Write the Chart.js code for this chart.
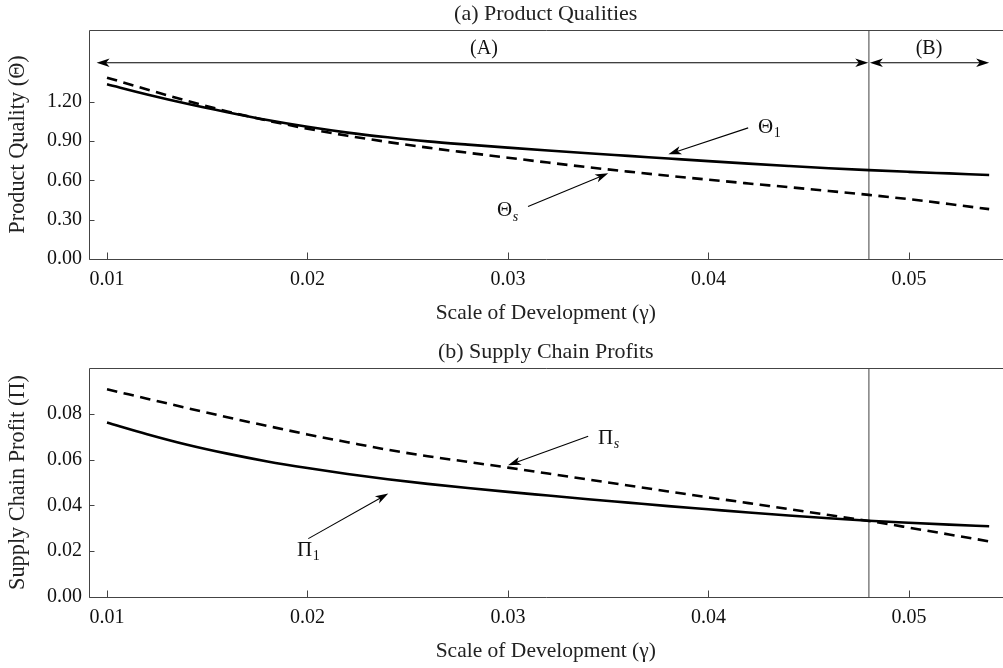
<!DOCTYPE html>
<html>
<head>
<meta charset="utf-8">
<script src="https://cdn.jsdelivr.net/npm/chart.js@4.4.1/dist/chart.umd.min.js"></script>
<style>
  html, body { margin:0; padding:0; background:#fff; overflow:hidden; width:1003px; height:668px; }
  .panel { position:absolute; left:0; width:1003px; height:334px; }
  #p1 { top:0; }
  #p2 { top:338px; }
</style>
</head>
<body>
<div class="panel" id="p1"><canvas id="c1" width="1003" height="334"></canvas></div>
<div class="panel" id="p2"><canvas id="c2" width="1003" height="334"></canvas></div>
<script>
// ---------------- data ----------------
const gamma   = [0.010,0.012,0.014,0.016,0.018,0.020,0.022,0.024,0.026,0.028,0.030,0.032,0.034,0.036,0.038,0.040,0.042,0.044,0.046,0.048,0.050,0.052,0.054];
const theta1  = [1.335,1.257,1.186,1.122,1.062,1.010,0.966,0.930,0.899,0.874,0.851,0.829,0.808,0.788,0.768,0.748,0.729,0.711,0.694,0.679,0.666,0.654,0.642];
const thetaS  = [1.386,1.296,1.208,1.128,1.058,0.996,0.942,0.894,0.851,0.812,0.774,0.737,0.701,0.668,0.636,0.606,0.577,0.549,0.520,0.490,0.457,0.420,0.381];
const pi1     = [0.0762,0.0711,0.0665,0.0626,0.0592,0.0563,0.0537,0.0514,0.0494,0.0476,0.0459,0.0443,0.0427,0.0412,0.0397,0.0383,0.0369,0.0356,0.0344,0.0333,0.0324,0.0316,0.0309];
const piS     = [0.0907,0.0866,0.0825,0.0785,0.0747,0.0710,0.0676,0.0643,0.0615,0.0590,0.0565,0.0539,0.0513,0.0487,0.0461,0.0435,0.0410,0.0384,0.0358,0.0332,0.0303,0.0273,0.0243];
const xTicks       = [0.01,0.02,0.03,0.04,0.05];
const thetaTicks   = [0.00,0.30,0.60,0.90,1.20];
const profitTicks  = [0.00,0.02,0.04,0.06,0.08];
const gammaThreshold = 0.048;
const xRange = [0.009077, 0.05469];
const thetaRange = [0, 1.75];
const profitRange = [0, 0.10];

const FONT = '"Liberation Serif", "Times New Roman", serif';

// ---------------- annotation plugin ----------------
function arrowHead(ctx, x1, y1, x2, y2) {
  const ang = Math.atan2(y2 - y1, x2 - x1);
  const L = 13, W = 4.2, N = 9.5;
  ctx.save();
  ctx.translate(x2, y2); ctx.rotate(ang);
  ctx.beginPath();
  ctx.moveTo(0, 0); ctx.lineTo(-L, W); ctx.lineTo(-N, 0); ctx.lineTo(-L, -W);
  ctx.closePath(); ctx.fill();
  ctx.restore();
}
function arrow(ctx, x1, y1, x2, y2, both) {
  const ang = Math.atan2(y2 - y1, x2 - x1);
  const c = Math.cos(ang), s = Math.sin(ang), N = 9;
  ctx.beginPath();
  ctx.moveTo(both ? x1 + c * N : x1, both ? y1 + s * N : y1);
  ctx.lineTo(x2 - c * N, y2 - s * N);
  ctx.stroke();
  arrowHead(ctx, x1, y1, x2, y2);
  if (both) arrowHead(ctx, x2, y2, x1, y1);
}
const annotPlugin = {
  id: 'annot',
  afterDatasetsDraw(chart, args, opts) {
    const { ctx, chartArea: a, scales: { x, y } } = chart;
    ctx.save();
    // frame (left, top, bottom) and inward ticks
    ctx.strokeStyle = '#444'; ctx.lineWidth = 1;
    const L = Math.round(a.left) + 0.5, T = Math.round(a.top) + 0.5, B = Math.round(a.bottom) + 0.5, R = a.right;
    ctx.beginPath();
    ctx.moveTo(L, T); ctx.lineTo(R, T);
    ctx.moveTo(L, T); ctx.lineTo(L, B);
    ctx.moveTo(L, B); ctx.lineTo(R, B);
    xTicks.forEach(t => { const px = Math.round(x.getPixelForValue(t)) + 0.5; ctx.moveTo(px, B); ctx.lineTo(px, B - 7); });
    opts.yTicks.forEach(t => { const py = Math.round(y.getPixelForValue(t)) + 0.5; ctx.moveTo(L, py); ctx.lineTo(L + 5, py); });
    ctx.stroke();
    // arrows
    ctx.strokeStyle = '#000'; ctx.fillStyle = '#000'; ctx.lineWidth = 1.1;
    (opts.arrows || []).forEach(ar => {
      arrow(ctx, x.getPixelForValue(ar.from[0]), y.getPixelForValue(ar.from[1]),
                 x.getPixelForValue(ar.to[0]),   y.getPixelForValue(ar.to[1]), ar.both);
    });
    // labels
    ctx.fillStyle = '#111'; ctx.textBaseline = 'middle';
    (opts.labels || []).forEach(lb => {
      const px = x.getPixelForValue(lb.x), py = y.getPixelForValue(lb.y);
      ctx.font = (lb.size || 21) + 'px ' + FONT;
      ctx.textAlign = lb.align || 'left';
      ctx.fillText(lb.text, px, py);
      if (lb.sub) {
        const w = ctx.measureText(lb.text).width;
        ctx.font = (lb.subItalic ? 'italic ' : '') + '14px ' + FONT;
        ctx.textAlign = 'left';
        ctx.fillText(lb.sub, px + w + 0.5, py + 6);
      }
    });
    ctx.restore();
  }
};

function makeChart(id, cfg) {
  const series = (ys) => gamma.map((g, i) => ({ x: g, y: ys[i] }));
  return new Chart(document.getElementById(id), {
    type: 'line',
    data: {
      datasets: [
        { data: series(cfg.solid), borderColor: '#000', borderWidth: 2.6, pointRadius: 0, cubicInterpolationMode: 'monotone', fill: false },
        { data: series(cfg.dashed), borderColor: '#000', borderWidth: 2.6, borderDash: [10.5, 6.5], pointRadius: 0, cubicInterpolationMode: 'monotone', fill: false },
        { data: [{ x: gammaThreshold, y: cfg.yRange[0] }, { x: gammaThreshold, y: cfg.yRange[1] }], borderColor: '#777', borderWidth: 1.4, pointRadius: 0, fill: false }
      ]
    },
    options: {
      responsive: false, animation: false, devicePixelRatio: 1, events: [],
      layout: { padding: 0 },
      plugins: {
        legend: { display: false }, tooltip: { enabled: false },
        title: { display: true, fullSize: false, text: cfg.title, color: '#222', font: { family: FONT, size: 22, weight: 'normal', lineHeight: 1.2 }, padding: { top: 1, bottom: 2.6 } },
        annot: { yTicks: cfg.yTicks, arrows: cfg.arrows, labels: cfg.labels }
      },
      scales: {
        x: {
          type: 'linear', min: xRange[0], max: xRange[1],
          afterBuildTicks: s => { s.ticks = xTicks.map(v => ({ value: v })); },
          afterFit: s => { s.height = 75; },
          grid: { display: false, drawTicks: false }, border: { display: false },
          ticks: { color: '#111', font: { family: FONT, size: 20 }, padding: 9, maxRotation: 0, callback: v => Number(v).toFixed(2) },
          title: { display: true, text: 'Scale of Development (γ)', color: '#222', font: { family: FONT, size: 21.5, lineHeight: 1.2 }, padding: { top: 0, bottom: 8 } }
        },
        y: {
          type: 'linear', min: cfg.yRange[0], max: cfg.yRange[1],
          afterBuildTicks: s => { s.ticks = cfg.yTicks.map(v => ({ value: v })); },
          afterFit: s => { s.width = 88.5; },
          grid: { display: false, drawTicks: false }, border: { display: false },
          ticks: { color: '#111', font: { family: FONT, size: 20 }, padding: 6.5, callback: v => Number(v).toFixed(2) },
          title: { display: true, text: cfg.yTitle, color: '#222', font: { family: FONT, size: 22.3, lineHeight: 1.2 }, padding: { top: 4.6, bottom: 0 } }
        }
      }
    },
    plugins: [annotPlugin]
  });
}

makeChart('c1', {
  title: '(a) Product Qualities',
  yTitle: 'Product Quality (Θ)',
  solid: theta1, dashed: thetaS, yRange: thetaRange, yTicks: thetaTicks,
  arrows: [
    { from: [0.00948, 1.5], to: [0.04797, 1.5], both: true },
    { from: [0.04805, 1.5], to: [0.0540, 1.5], both: true },
    { from: [0.04198, 1.002], to: [0.0380, 0.800] },
    { from: [0.0310, 0.401], to: [0.0350, 0.655] }
  ],
  labels: [
    { text: '(A)', x: 0.0288, y: 1.609, align: 'center', size: 20 },
    { text: '(B)', x: 0.0510, y: 1.609, align: 'center', size: 20 },
    { text: 'Θ', sub: '1', x: 0.04247, y: 1.008 },
    { text: 'Θ', sub: 's', subItalic: true, x: 0.02945, y: 0.368 }
  ]
});

makeChart('c2', {
  title: '(b) Supply Chain Profits',
  yTitle: 'Supply Chain Profit (Π)',
  solid: pi1, dashed: piS, yRange: profitRange, yTicks: profitTicks,
  arrows: [
    { from: [0.0340, 0.0702], to: [0.0300, 0.0575] },
    { from: [0.02004, 0.0255], to: [0.02403, 0.0452] }
  ],
  labels: [
    { text: 'Π', sub: 's', subItalic: true, x: 0.03449, y: 0.0691 },
    { text: 'Π', sub: '1', x: 0.01948, y: 0.0204 }
  ]
});
</script>
</body>
</html>
